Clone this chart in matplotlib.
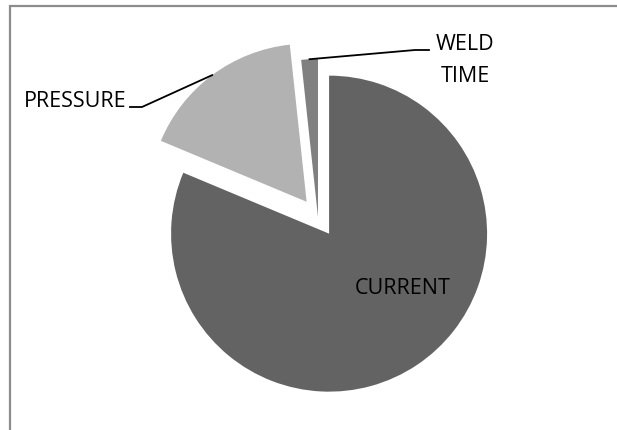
import numpy as np
import matplotlib.pyplot as plt
from matplotlib.patches import Rectangle

labels = ['CURRENT', 'PRESSURE', 'WELD TIME']
values = [81.3, 17.0, 1.7]
colors = ['#636363', '#b2b2b2', '#808080']
explode = [20, 19, 0]

W, H = 617, 430
plt.rcParams['font.family'] = ['Open Sans', 'DejaVu Sans']

fig = plt.figure(figsize=(W / 100, H / 100), dpi=100)
ax = fig.add_axes([0, 0, 1, 1])

# frame (only top and left visible in the crop)
fig.patches.append(Rectangle((9.5 / W, -0.1), 2, (H - 6) / H + 0.1, transform=fig.transFigure,
                             fill=False, edgecolor='#8c8c8c', linewidth=1.6))

cx, cy, r = 318, H - 217, 158
wedges, _ = ax.pie(values, colors=colors, explode=explode, startangle=90,
                   counterclock=False, radius=r, center=(cx, cy), frame=True)
ax.set_xlim(0, W)
ax.set_ylim(0, H)
ax.set_aspect('equal')
ax.axis('off')


def arc_mid(w):
    t = np.deg2rad((w.theta1 + w.theta2) / 2)
    x0, y0 = w.center
    return x0 + w.r * np.cos(t), y0 + w.r * np.sin(t)


fs = 15.5

# CURRENT label inside
ax.text(403, H - 289, 'CURRENT', ha='center', va='center', fontsize=fs, color='black')

# PRESSURE leader + label
px, py = arc_mid(wedges[1])
ax.plot([px, 142, 130], [py, H - 107, H - 107], color='black', lw=1.3)
ax.text(126, H - 107, 'PRESSURE', ha='right', va='baseline', fontsize=fs, color='black')

# WELD TIME leader + label
wx, wy = arc_mid(wedges[2])
ax.plot([wx, 415, 429], [wy, H - 50, H - 50], color='black', lw=1.3)
ax.text(465, H - 50, 'WELD', ha='center', va='baseline', fontsize=fs, color='black')
ax.text(465, H - 82, 'TIME', ha='center', va='baseline', fontsize=fs, color='black')

fig.savefig('out.png', dpi=100)
